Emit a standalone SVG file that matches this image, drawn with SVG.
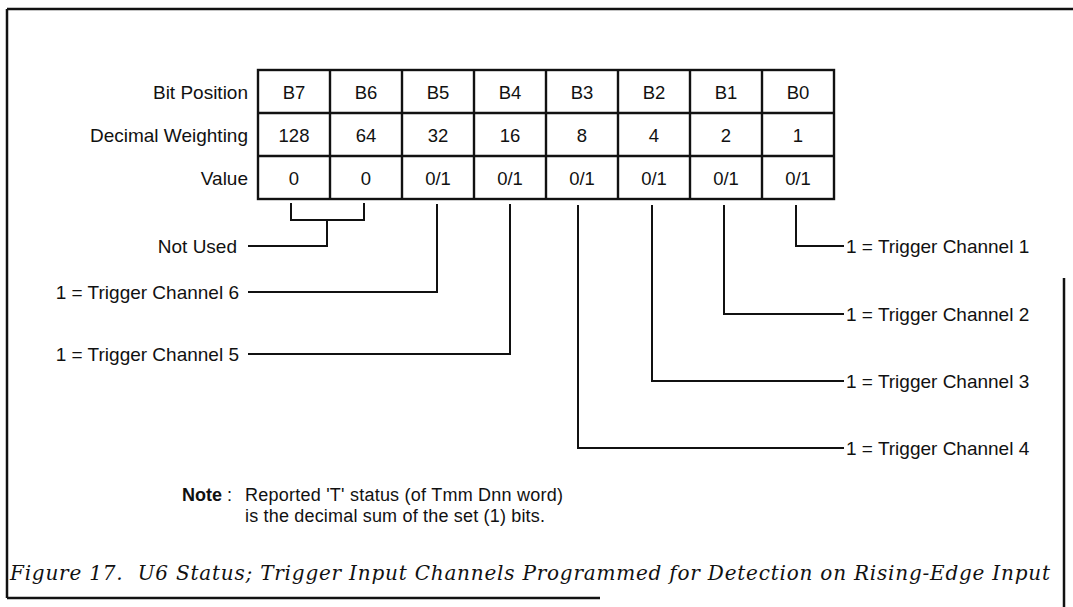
<svg xmlns="http://www.w3.org/2000/svg" width="1073" height="607" viewBox="0 0 1073 607">
  <style>
    .lbl { font-family: "Liberation Sans", Arial, sans-serif; font-size: 19px; fill: #111; }
    .cell { font-family: "Liberation Sans", Arial, sans-serif; font-size: 18.5px; fill: #111; text-anchor: middle; }
    .end { text-anchor: end; }
    .note { font-family: "Liberation Sans", Arial, sans-serif; font-size: 18px; fill: #111; }
    .cap { font-family: "DejaVu Serif", "Liberation Serif", serif; font-style: italic; font-size: 20px; fill: #111; }
    .grid { fill: none; stroke: #111; stroke-width: 2.4; }
    .wire { fill: none; stroke: #111; stroke-width: 2; }
    .frame { fill: none; stroke: #111; stroke-width: 2.5; }
  </style>
  <rect width="1073" height="607" fill="#fff"/>

  <!-- outer frame -->
  <g id="frame">
    <line class="frame" x1="7" y1="9" x2="1073" y2="9" stroke-width="3"/>
    <line class="frame" x1="7" y1="9" x2="7" y2="598"/>
    <line class="frame" x1="7" y1="598" x2="600" y2="598"/>
    <line class="frame" x1="1064" y1="278" x2="1064" y2="607"/>
  </g>

  <!-- row captions -->
  <g id="row-labels">
    <text class="lbl end" x="248" y="99">Bit Position</text>
    <text class="lbl end" x="248" y="142">Decimal Weighting</text>
    <text class="lbl end" x="248" y="185">Value</text>
  </g>

  <!-- status byte table -->
  <g id="status-table">
    <rect class="grid" x="258" y="70" width="576" height="129"/>
    <path class="grid" d="M258 113H834M258 156H834M330 70V199M402 70V199M474 70V199M546 70V199M618 70V199M690 70V199M762 70V199"/>
    <g id="bit-B7"><text class="cell" x="294" y="99">B7</text><text class="cell" x="294" y="142">128</text><text class="cell" x="294" y="185">0</text></g>
    <g id="bit-B6"><text class="cell" x="366" y="99">B6</text><text class="cell" x="366" y="142">64</text><text class="cell" x="366" y="185">0</text></g>
    <g id="bit-B5"><text class="cell" x="438" y="99">B5</text><text class="cell" x="438" y="142">32</text><text class="cell" x="438" y="185">0/1</text></g>
    <g id="bit-B4"><text class="cell" x="510" y="99">B4</text><text class="cell" x="510" y="142">16</text><text class="cell" x="510" y="185">0/1</text></g>
    <g id="bit-B3"><text class="cell" x="582" y="99">B3</text><text class="cell" x="582" y="142">8</text><text class="cell" x="582" y="185">0/1</text></g>
    <g id="bit-B2"><text class="cell" x="654" y="99">B2</text><text class="cell" x="654" y="142">4</text><text class="cell" x="654" y="185">0/1</text></g>
    <g id="bit-B1"><text class="cell" x="726" y="99">B1</text><text class="cell" x="726" y="142">2</text><text class="cell" x="726" y="185">0/1</text></g>
    <g id="bit-B0"><text class="cell" x="798" y="99">B0</text><text class="cell" x="798" y="142">1</text><text class="cell" x="798" y="185">0/1</text></g>
  </g>

  <!-- leader lines from each bit to its meaning -->
  <g id="connectors">
    <path class="wire" d="M291 203V220H364V203M327 220V246H248"/>
    <path class="wire" d="M437 204V292H248"/>
    <path class="wire" d="M510 204V354H248"/>
    <path class="wire" d="M578 205V448H844"/>
    <path class="wire" d="M652 205V381H844"/>
    <path class="wire" d="M724 205V314H844"/>
    <path class="wire" d="M796 205V246H844"/>
  </g>

  <!-- bit meanings -->
  <g id="not-used"><text class="lbl end" x="237" y="253">Not Used</text></g>
  <g id="ch6"><text class="lbl end" x="239" y="299">1 = Trigger Channel 6</text></g>
  <g id="ch5"><text class="lbl end" x="239" y="361">1 = Trigger Channel 5</text></g>
  <g id="ch1"><text class="lbl" x="846" y="253">1 = Trigger Channel 1</text></g>
  <g id="ch2"><text class="lbl" x="846" y="321">1 = Trigger Channel 2</text></g>
  <g id="ch3"><text class="lbl" x="846" y="388">1 = Trigger Channel 3</text></g>
  <g id="ch4"><text class="lbl" x="846" y="455">1 = Trigger Channel 4</text></g>

  <!-- note -->
  <g id="note">
    <text class="note" x="182" y="501"><tspan font-weight="bold">Note</tspan> :</text>
    <text class="note" x="245" y="501" textLength="318" lengthAdjust="spacing">Reported 'T' status (of Tmm Dnn word)</text>
    <text class="note" x="245" y="522" textLength="300" lengthAdjust="spacing">is the decimal sum of the set (1) bits.</text>
  </g>

  <!-- figure caption -->
  <text class="cap" x="10" y="580" textLength="1040" lengthAdjust="spacing" xml:space="preserve">Figure 17.  U6 Status; Trigger Input Channels Programmed for Detection on Rising-Edge Input</text>
</svg>
